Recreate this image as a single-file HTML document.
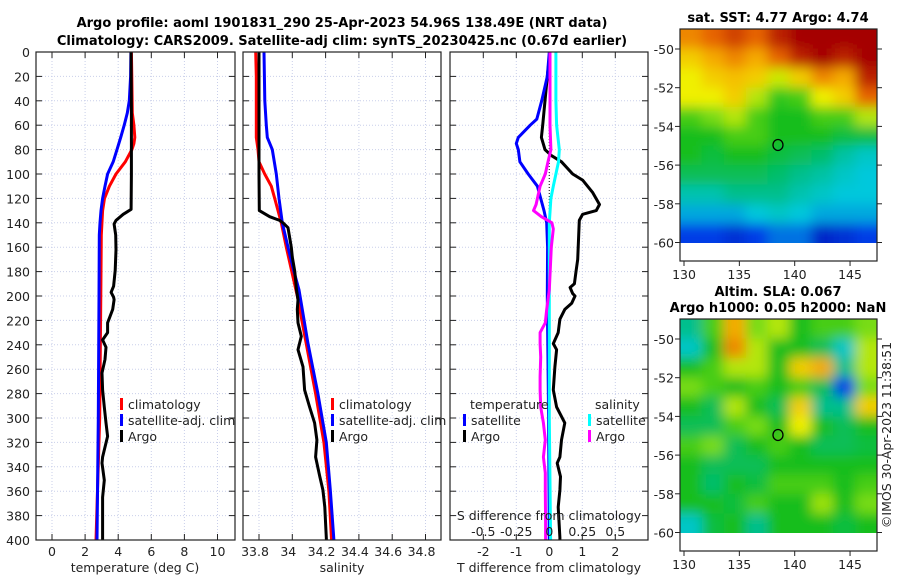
<!DOCTYPE html>
<html><head><meta charset="utf-8"><style>
html,body{margin:0;padding:0;background:#fff;}
svg{display:block;font-family:"DejaVu Sans","Liberation Sans",sans-serif;}
</style></head><body>
<svg id="fig" width="900" height="580" viewBox="0 0 900 580" xmlns="http://www.w3.org/2000/svg">
<defs>
<filter id="blur" filterUnits="userSpaceOnUse" x="600" y="0" width="300" height="580"><feGaussianBlur stdDeviation="6"/></filter>
<clipPath id="clipSST"><rect x="680" y="29" width="197" height="214"/></clipPath>
<clipPath id="clipSLA"><rect x="680" y="319" width="197" height="214"/></clipPath>
</defs>
<g id="root"></g>
</svg>
<script>
// ---------- data ----------
const depthTicks = [0,20,40,60,80,100,120,140,160,180,200,220,240,260,280,300,320,340,360,380,400];
const tTicks = [0,2,4,6,8,10];
const sTicks = [33.8,34,34.2,34.4,34.6,34.8];
const dTTicks = [-2,-1,0,1,2];
const dSTicks = [-0.5,-0.25,0,0.25,0.5];
const dSTickLabels = ["-0.5","-0.25","0","0.25","0.5"];
const lonTicks = [130,135,140,145];
const latTicks = [-50,-52,-54,-56,-58,-60];

const climTDepth = [0,20,50,60,70,75,80,90,100,110,120,130,150,200,300,400];
const climT      = [4.8,4.82,4.85,4.95,5.0,4.95,4.83,4.43,3.87,3.47,3.17,3.06,2.98,2.95,2.88,2.66];
const satTDepth  = [0,20,40,50,60,70,80,90,100,110,120,130,140,150,200,300,400];
const satT       = [4.77,4.75,4.67,4.55,4.36,4.15,3.93,3.7,3.36,3.2,3.06,2.96,2.9,2.86,2.84,2.8,2.72];
const argoTDepth = [0,50,100,129,133,138,141,150,162,179,192,197,201,203,211,222,230,236,242,252,263,277,291,304,315,332,337,351,365,386,398,400];
const argoT      = [4.78,4.8,4.8,4.78,4.3,3.87,3.75,3.85,3.87,3.82,3.72,3.57,3.72,3.75,3.67,3.36,3.36,3.06,3.26,3.2,3.02,3.06,3.16,3.26,3.36,3.06,3.02,3.16,3.06,3.06,3.06,3.06];

const climSDepth = [0,20,70,80,90,100,110,120,140,160,200,280,320,360,398,400];
const climS      = [33.78,33.784,33.784,33.794,33.8,33.834,33.874,33.894,33.934,33.964,34.03,34.14,34.19,34.22,34.235,34.236];
const satSDepth  = [0,40,60,70,80,100,120,140,160,180,195,239,280,320,359,400];
const satS       = [33.83,33.835,33.844,33.85,33.88,33.904,33.92,33.94,33.974,34.01,34.04,34.094,34.154,34.204,34.228,34.25];
const argoSDepth = [0,100,130,135,138,140,144,160,168,180,195,203,211,222,233,244,258,277,291,304,318,332,348,359,373,398,400];
const argoS      = [33.8,33.8,33.802,33.864,33.924,33.944,33.974,33.994,34.0,34.015,34.025,34.034,34.03,34.034,34.054,34.034,34.064,34.074,34.104,34.134,34.148,34.14,34.165,34.184,34.195,34.204,34.205];

const satDTDepth = [0,20,40,55,60,70,75,80,90,100,110,120,130,140,160,200,300,400];
const satDT      = [0,-0.06,-0.23,-0.38,-0.58,-0.94,-1.0,-0.94,-0.89,-0.64,-0.36,-0.26,-0.16,-0.08,-0.05,-0.06,-0.02,0.0];
const argoDTDepth = [0,20,40,60,70,80,85,90,100,105,115,125,130,133,138,150,170,180,190,193,198,200,206,211,219,230,239,244,258,277,291,304,318,332,337,348,359,373,398,400];
const argoDT      = [0.02,-0.06,-0.13,-0.2,-0.24,-0.13,0.07,0.37,0.71,1.01,1.31,1.52,1.42,1.01,0.91,0.89,0.86,0.81,0.76,0.63,0.71,0.78,0.68,0.47,0.32,0.27,0.12,0.22,0.17,0.12,0.22,0.47,0.37,0.32,0.24,0.34,0.32,0.27,0.32,0.32];
const satDSDepth = [0,40,60,80,90,100,110,120,140,200,300,400];
const satDS      = [0.05,0.05,0.055,0.076,0.07,0.05,0.03,0.012,0.0,0.0,0.0,0.01];
const argoDSDepth = [0,60,80,90,100,110,120,125,130,135,140,145,160,195,211,222,230,239,250,266,277,291,304,318,332,345,359,386,400];
const argoDS      = [0.005,0.005,0.012,-0.01,-0.03,-0.07,-0.09,-0.1,-0.12,-0.06,0.02,0.03,0.015,0.0,-0.02,-0.03,-0.07,-0.07,-0.065,-0.07,-0.07,-0.065,-0.045,-0.03,-0.045,-0.03,-0.03,-0.028,-0.028];

const sstGrid = [
[0.8,0.85,0.9,0.85,0.95,1,1,1,1],
[0.7,0.75,0.8,0.75,0.85,0.95,1,0.95,1],
[0.65,0.7,0.72,0.7,0.62,0.7,0.8,0.75,0.95],
[0.65,0.65,0.7,0.6,0.48,0.5,0.65,0.7,0.85],
[0.5,0.55,0.6,0.5,0.45,0.45,0.5,0.5,0.6],
[0.45,0.45,0.5,0.5,0.45,0.45,0.45,0.42,0.42],
[0.45,0.42,0.45,0.45,0.42,0.4,0.38,0.33,0.3],
[0.4,0.4,0.4,0.4,0.38,0.35,0.33,0.3,0.28],
[0.32,0.32,0.35,0.35,0.35,0.32,0.3,0.28,0.28],
[0.25,0.25,0.25,0.28,0.3,0.28,0.25,0.25,0.25],
[0.15,0.15,0.12,0.15,0.2,0.2,0.1,0.12,0.15]];
const slaGrid = [
[0.35,0.5,0.75,0.55,0.6,0.45,0.5,0.5,0.55],
[0.3,0.45,0.8,0.6,0.45,0.45,0.4,0.3,0.6],
[0.45,0.5,0.6,0.6,0.45,0.7,0.75,0.35,0.6],
[0.55,0.5,0.45,0.5,0.45,0.5,0.4,0.15,0.55],
[0.45,0.4,0.6,0.45,0.4,0.7,0.35,0.35,0.7],
[0.4,0.4,0.5,0.55,0.45,0.65,0.45,0.4,0.45],
[0.5,0.55,0.4,0.45,0.5,0.45,0.4,0.4,0.42],
[0.45,0.4,0.4,0.4,0.45,0.45,0.45,0.45,0.45],
[0.45,0.38,0.45,0.42,0.5,0.5,0.5,0.45,0.5],
[0.45,0.45,0.42,0.5,0.45,0.45,0.58,0.45,0.55],
[0.3,0.42,0.45,0.35,0.45,0.45,0.45,0.42,0.45]];
const floatLon = 138.49, floatLat = -54.96;

// ---------- helpers ----------
const NS = "http://www.w3.org/2000/svg";
const root = document.getElementById('root');
function mk(tag, attrs, parent){ const e=document.createElementNS(NS,tag); for(const k in attrs) e.setAttribute(k,attrs[k]); (parent||root).appendChild(e); return e; }
function txt(x,y,s,attrs,parent){ const e=mk('text',Object.assign({x:x,y:y,'font-size':12.5,fill:'#222'},attrs||{}),parent); e.textContent=s; return e; }
const yD = d => 52 + d*1.22;
const PT=52, PB=540;
const xT  = v => 52 + v*16.55;
const xS  = v => 259 + (v-33.8)*166.5;
const xDT = v => 549.3 + v*33;
const xDS = v => 549.3 + v*132;
const GRID = '#c9cfea';

function panel(name, x0, x1, xfun, ticks){
  const g = mk('g',{});
  
  
  mk('rect',{x:x0,y:PT,width:x1-x0,height:PB-PT,fill:'#fff'},g);
  ticks.forEach(t=>{ const x=xfun(t); mk('line',{x1:x,x2:x,y1:PT,y2:PB,stroke:GRID,'stroke-width':1,'stroke-dasharray':'1,2'},g);
    mk('line',{x1:x,x2:x,y1:PT,y2:PT+6,stroke:'#222'},g); mk('line',{x1:x,x2:x,y1:PB,y2:PB-6,stroke:'#222'},g);});
  depthTicks.forEach(d=>{ const y=yD(d); mk('line',{x1:x0,x2:x1,y1:y,y2:y,stroke:GRID,'stroke-width':1,'stroke-dasharray':'1,2'},g);
    mk('line',{x1:x0,x2:x0+6,y1:y,y2:y,stroke:'#222'},g); mk('line',{x1:x1,x2:x1-6,y1:y,y2:y,stroke:'#222'},g);});
  return g;
}
function frame(x0,x1,g){ mk('rect',{x:x0,y:PT,width:x1-x0,height:PB-PT,fill:'none',stroke:'#222','stroke-width':1.2},g); }
function line(g, name, depths, vals, xfun, color, x0, x1){
  const pts = depths.map((d,i)=>xfun(vals[i]).toFixed(1)+','+yD(d).toFixed(1)).join(' ');
  const cid = 'c'+name;
  const cp = mk('clipPath',{id:cid},g); mk('rect',{x:x0,y:PT,width:x1-x0,height:PB-PT},cp);
  const p = mk('polyline',{points:pts,fill:'none',stroke:color,'stroke-width':3,'stroke-linejoin':'round','clip-path':'url(#'+cid+')'},g);
  
  
}
function legendItem(g, x, y, color, label, name){
  mk('rect',{x:x,y:y-11,width:3,height:12,fill:color},g);
  const t = txt(x+8,y,label,{},g);
  
  
}

// ---------- titles ----------
const t1 = txt(342,27,'Argo profile: aoml 1901831_290 25-Apr-2023 54.96S 138.49E (NRT data)',{'text-anchor':'middle','font-weight':'bold','font-size':13,fill:'#000'});
 
const t2 = txt(342,45,'Climatology: CARS2009. Satellite-adj clim: synTS_20230425.nc (0.67d earlier)',{'text-anchor':'middle','font-weight':'bold','font-size':13,fill:'#000'});
 

// ---------- panel 1: temperature ----------
const g1 = panel('temperature-panel',36,235,xT,tTicks);
line(g1,'temperature-climatology',climTDepth,climT,xT,'#ff0000',36,235);
line(g1,'temperature-satellite',satTDepth,satT,xT,'#0000ff',36,235);
line(g1,'temperature-argo',argoTDepth,argoT,xT,'#000000',36,235);
frame(36,235,g1);
legendItem(g1,120,409,'#ff0000','climatology','legend-climatology');
legendItem(g1,120,425,'#0000ff','satellite-adj. clim','legend-satellite-adj');
legendItem(g1,120,441,'#000000','Argo','legend-argo');
depthTicks.forEach(d=>txt(30,yD(d)+5,String(d),{'text-anchor':'end'}));
tTicks.forEach(t=>txt(xT(t),556,String(t),{'text-anchor':'middle'}));
txt(135,572,'temperature (deg C)',{'text-anchor':'middle'});

// ---------- panel 2: salinity ----------
const g2 = panel('salinity-panel',243,441,xS,sTicks);
line(g2,'salinity-climatology',climSDepth,climS,xS,'#ff0000',243,441);
line(g2,'salinity-satellite',satSDepth,satS,xS,'#0000ff',243,441);
line(g2,'salinity-argo',argoSDepth,argoS,xS,'#000000',243,441);
frame(243,441,g2);
legendItem(g2,331,409,'#ff0000','climatology','legend-climatology-s');
legendItem(g2,331,425,'#0000ff','satellite-adj. clim','legend-satellite-adj-s');
legendItem(g2,331,441,'#000000','Argo','legend-argo-s');
sTicks.forEach(t=>txt(xS(t)-4,556,String(t),{'text-anchor':'middle'}));
txt(342,572,'salinity',{'text-anchor':'middle'});

// ---------- panel 3: differences ----------
const g3 = panel('difference-panel',450,648,xDT,dTTicks);
mk('line',{x1:xDT(0),x2:xDT(0),y1:PT,y2:PB,stroke:'#333','stroke-width':1.2,'stroke-dasharray':'1,2'},g3);
line(g3,'temp-diff-argo',argoDTDepth,argoDT,xDT,'#000000',450,648);
line(g3,'temp-diff-satellite',satDTDepth,satDT,xDT,'#0000ff',450,648);
line(g3,'sal-diff-satellite',satDSDepth,satDS,xDS,'#00ffff',450,648);
line(g3,'sal-diff-argo',argoDSDepth,argoDS,xDS,'#ff00ff',450,648);
frame(450,648,g3);
txt(470,409,'temperature',{},g3);
legendItem(g3,463,425,'#0000ff','satellite','legend-temp-satellite');
legendItem(g3,463,441,'#000000','Argo','legend-temp-argo');
txt(595,409,'salinity',{},g3);
legendItem(g3,588,425,'#00ffff','satellite','legend-sal-satellite');
legendItem(g3,588,441,'#ff00ff','Argo','legend-sal-argo');
txt(549,520,'S difference from climatology',{'text-anchor':'middle'},g3);
dSTicks.forEach((t,i)=>txt(xDS(t),536,dSTickLabels[i],{'text-anchor':'middle'},g3));
dTTicks.forEach(t=>txt(xDT(t),556,String(t),{'text-anchor':'middle'}));
txt(549,572,'T difference from climatology',{'text-anchor':'middle'});

// ---------- maps ----------
const cmapStops = [[0,[0,0,140]],[0.15,[0,60,230]],[0.28,[0,200,220]],[0.36,[0,190,130]],[0.45,[20,190,30]],[0.55,[120,220,20]],[0.65,[240,240,0]],[0.75,[245,170,0]],[0.85,[230,100,0]],[1,[165,0,0]]];
function cmap(v){
  v=Math.max(0,Math.min(1,v));
  for(let i=1;i<cmapStops.length;i++){
    if(v<=cmapStops[i][0]){
      const a=cmapStops[i-1], b=cmapStops[i], f=(v-a[0])/(b[0]-a[0]);
      return 'rgb('+[0,1,2].map(k=>Math.round(a[1][k]+f*(b[1][k]-a[1][k]))).join(',')+')';
    }
  }
  return 'rgb(165,0,0)';
}
function map(name, top, grid, clipId, titles){
  const g = mk('g',{});
  
  
  const fx0=680, fx1=877, fy0=top, fy1=top+232, imgBottom=top+214;
  const xLon = lon => 684 + (lon-130)*11.07;
  const yLat = lat => top+20 + (-50-lat)*19.35;
  mk('rect',{x:fx0,y:fy0,width:fx1-fx0,height:fy1-fy0,fill:'#fff'},g);
  const ig = mk('g',{'clip-path':'url(#'+clipId+')'},g);
  const inner = mk('g',{filter:'url(#blur)'},ig);
  const rows=grid.length, cols=grid[0].length;
  const cw=(fx1-fx0)/cols, ch=(imgBottom-fy0)/rows;
  for(let r=-1;r<=rows;r++) for(let c=-1;c<=cols;c++){
    const rr=Math.max(0,Math.min(rows-1,r)), cc=Math.max(0,Math.min(cols-1,c));
    const cell = mk('rect',{x:fx0+c*cw,y:fy0+r*ch,width:cw+0.6,height:ch+0.6,fill:cmap(grid[rr][cc])},inner);
    
    
  }
  mk('rect',{x:fx0,y:imgBottom,width:fx1-fx0,height:fy1-imgBottom,fill:'#fff'},g);
  mk('ellipse',{cx:xLon(floatLon),cy:yLat(floatLat),rx:5,ry:5.5,fill:'none',stroke:'#000','stroke-width':1.3},g);
  mk('rect',{x:fx0,y:fy0,width:fx1-fx0,height:fy1-fy0,fill:'none',stroke:'#222','stroke-width':1.2},g);
  latTicks.forEach(l=>{ const y=yLat(l); mk('line',{x1:fx0-5,x2:fx0,y1:y,y2:y,stroke:'#222'},g); mk('line',{x1:fx1,x2:fx1+5,y1:y,y2:y,stroke:'#222'},g);
    txt(674,y+5,String(l),{'text-anchor':'end'},g); });
  lonTicks.forEach(l=>{ const x=xLon(l); mk('line',{x1:x,x2:x,y1:fy1,y2:fy1+5,stroke:'#222'},g);
    txt(x,fy1+18,String(l),{'text-anchor':'middle'},g); });
  titles.forEach((s,i)=>txt(778,top-7-(titles.length-1-i)*16,s,{'text-anchor':'middle','font-weight':'bold','font-size':13,fill:'#000'},g));
}
map('sst-map',29,sstGrid,'clipSST',['sat. SST: 4.77 Argo: 4.74']);
map('sla-map',319,slaGrid,'clipSLA',['Altim. SLA: 0.067','Argo h1000: 0.05 h2000: NaN']);
const cr = txt(0,0,'©IMOS 30-Apr-2023 11:38:51',{'text-anchor':'middle',transform:'translate(891,435) rotate(-90)'});
 
</script>
</body></html>
